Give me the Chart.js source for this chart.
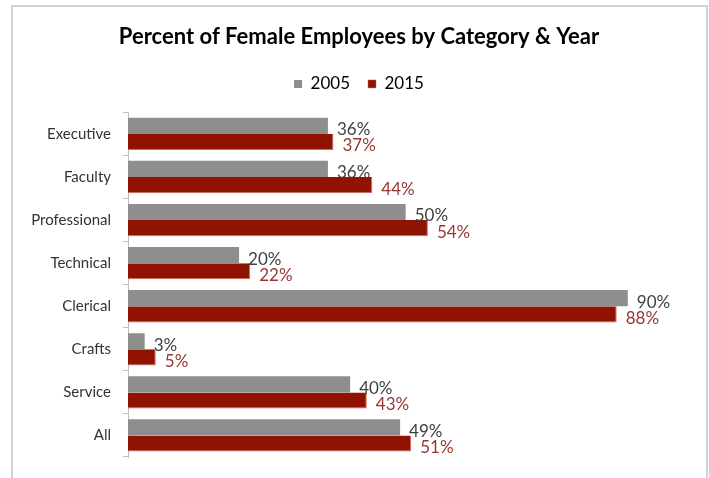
<!DOCTYPE html>
<html lang="en">
<head>
  <meta charset="UTF-8">
  <title>Percent of Female Employees</title>
  <script src="https://cdn.jsdelivr.net/npm/chart.js"></script>
  <style>
    body {
      margin: 0;
      padding: 0;
      background: #fff;
    }
    .wrap {
      position: relative;
      width: 709px;
      height: 478px;
    }
    .frame {
      position: absolute;
      left: 11px;
      top: 5px;
      width: 693px;
      height: 480px;
      border: 2px solid #d2d2d2;
      border-bottom: none;
      pointer-events: none;
    }
  </style>
</head>
<body>
  <div class="wrap">
    <canvas id="chart" width="709" height="478"></canvas>
    <div class="frame"></div>
  </div>

  <script>
    const categories = ["Executive", "Faculty", "Professional", "Technical", "Clerical", "Crafts", "Service", "All"];
    const years = ["2005", "2015"];
    const values2005 = [36, 36, 50, 20, 90, 3, 40, 49];
    const values2015 = [37, 44, 54, 22, 88, 5, 43, 51];

    const FONT = "Lato, 'Open Sans', sans-serif";

    // value labels just past the end of each bar
    const barLabels = {
      id: "barLabels",
      afterDatasetsDraw(chart) {
        const ctx = chart.ctx;
        ctx.save();
        ctx.font = "17px " + FONT;
        ctx.textBaseline = "middle";
        ctx.textAlign = "left";
        chart.data.datasets.forEach((ds, i) => {
          const meta = chart.getDatasetMeta(i);
          ctx.fillStyle = ds.labelColor;
          meta.data.forEach((bar, j) => {
            ctx.fillText(ds.data[j] + "%", bar.x + 9, bar.y + 4);
          });
        });
        ctx.restore();
      }
    };

    // a bit more room between the legend and the bars
    const legendGap = {
      id: "legendGap",
      beforeInit(chart) {
        const fit = chart.legend.fit;
        chart.legend.fit = function () {
          fit.bind(chart.legend)();
          this.height += 10;
        };
      }
    };

    new Chart(document.getElementById("chart").getContext("2d"), {
      type: "bar",
      data: {
        labels: categories,
        datasets: [{
          label: years[0],
          data: values2005,
          backgroundColor: "#8e8e8e",
          labelColor: "#404040"
        }, {
          label: years[1],
          data: values2015,
          backgroundColor: "#901200",
          borderColor: "#d96a5e",
          borderWidth: { right: 1, top: 0, bottom: 1, left: 0 },
          labelColor: "#953735"
        }]
      },
      options: {
        indexAxis: "y",
        responsive: false,
        animation: false,
        categoryPercentage: 0.75,
        barPercentage: 1,
        layout: {
          padding: { left: 18, right: 9, top: 0, bottom: 10 }
        },
        plugins: {
          title: {
            display: true,
            text: "Percent of Female Employees by Category & Year",
            color: "#000",
            font: { family: FONT, size: 22, weight: "bold" },
            padding: { top: 24, bottom: 7 }
          },
          legend: {
            display: true,
            labels: {
              color: "#000",
              font: { family: FONT, size: 17 },
              boxWidth: 8,
              boxHeight: 8,
              padding: 18
            }
          },
          tooltip: { enabled: false }
        },
        scales: {
          x: {
            display: false,
            min: 0,
            max: 103
          },
          y: {
            afterFit(scale) {
              scale.width = 110;
            },
            border: { display: true, color: "#bfbfbf", width: 1 },
            grid: {
              display: true,
              drawOnChartArea: false,
              drawTicks: true,
              tickLength: 5,
              color: "#bfbfbf"
            },
            ticks: {
              color: "#333",
              padding: 12,
              font: { family: FONT, size: 15 }
            }
          }
        }
      },
      plugins: [barLabels, legendGap]
    });
  </script>
</body>
</html>
